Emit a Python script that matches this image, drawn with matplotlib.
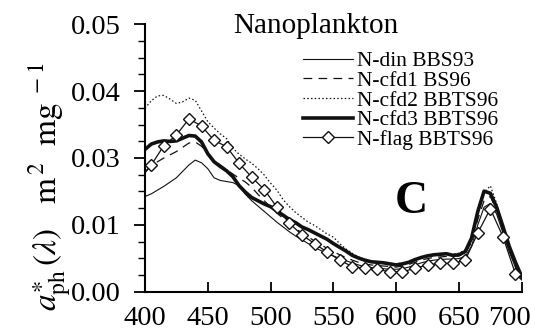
import matplotlib
matplotlib.use("Agg")
import matplotlib.pyplot as plt
import matplotlib.transforms as mtransforms
from matplotlib.ticker import MultipleLocator, FormatStrFormatter
from matplotlib.lines import Line2D

plt.rcParams["font.family"] = ["Liberation Serif", "DejaVu Serif"]
plt.rcParams["mathtext.fontset"] = "stix"

# Wavelength grid (nm) for the continuous spectra
wavelength = list(range(400, 701, 5))

n_din_bbs93 = [
    0.0178, 0.0183, 0.0190, 0.0197, 0.0205, 0.0213, 0.0225, 0.0237, 0.0246, 0.0241,
    0.0230, 0.0213, 0.0208, 0.0206, 0.0204, 0.0198, 0.0182, 0.0170, 0.0160, 0.0150,
    0.0140, 0.0130, 0.0121, 0.0112, 0.0104, 0.0097, 0.0090, 0.0083, 0.0077, 0.0072,
    0.0067, 0.0062, 0.0058, 0.0054, 0.0050, 0.0047, 0.0045, 0.0044, 0.0043, 0.0042,
    0.0042, 0.0043, 0.0046, 0.0050, 0.0054, 0.0057, 0.0059, 0.0060, 0.0061, 0.0061,
    0.0062, 0.0066, 0.0085, 0.0125, 0.0158, 0.0165, 0.0145, 0.0110, 0.0075, 0.0045,
    0.0025,
]

n_cfd1_bs96 = [
    0.0225, 0.0235, 0.0243, 0.0250, 0.0256, 0.0262, 0.0270, 0.0278, 0.0280, 0.0272,
    0.0258, 0.0245, 0.0237, 0.0228, 0.0220, 0.0212, 0.0205, 0.0195, 0.0182, 0.0170,
    0.0158, 0.0147, 0.0137, 0.0127, 0.0118, 0.0110, 0.0102, 0.0095, 0.0088, 0.0081,
    0.0075, 0.0069, 0.0064, 0.0059, 0.0055, 0.0052, 0.0050, 0.0049, 0.0048, 0.0047,
    0.0046, 0.0048, 0.0051, 0.0055, 0.0059, 0.0062, 0.0064, 0.0065, 0.0066, 0.0066,
    0.0067, 0.0072, 0.0092, 0.0135, 0.0170, 0.0178, 0.0152, 0.0115, 0.0078, 0.0047,
    0.0026,
]

n_cfd2_bbts96 = [
    0.0343, 0.0357, 0.0366, 0.0367, 0.0360, 0.0352, 0.0355, 0.0362, 0.0358, 0.0338,
    0.0318, 0.0306, 0.0295, 0.0286, 0.0268, 0.0257, 0.0248, 0.0240, 0.0230, 0.0218,
    0.0203, 0.0190, 0.0172, 0.0159, 0.0148, 0.0139, 0.0130, 0.0124, 0.0116, 0.0108,
    0.0102, 0.0090, 0.0080, 0.0072, 0.0065, 0.0060, 0.0057, 0.0055, 0.0054, 0.0053,
    0.0052, 0.0054, 0.0057, 0.0061, 0.0064, 0.0066, 0.0068, 0.0069, 0.0070, 0.0070,
    0.0072, 0.0078, 0.0100, 0.0145, 0.0185, 0.0198, 0.0165, 0.0125, 0.0085, 0.0052,
    0.0028,
]

n_cfd3_bbts96 = [
    0.0266, 0.0276, 0.0280, 0.0282, 0.0281, 0.0282, 0.0287, 0.0292, 0.0291, 0.0280,
    0.0258, 0.0243, 0.0234, 0.0226, 0.0215, 0.0198, 0.0186, 0.0176, 0.0170, 0.0164,
    0.0159, 0.0151, 0.0143, 0.0135, 0.0129, 0.0121, 0.0116, 0.0110, 0.0104, 0.0098,
    0.0090, 0.0083, 0.0076, 0.0068, 0.0063, 0.0059, 0.0056, 0.0055, 0.0054, 0.0052,
    0.0050, 0.0052, 0.0055, 0.0060, 0.0064, 0.0067, 0.0069, 0.0070, 0.0071, 0.0068,
    0.0069, 0.0075, 0.0100, 0.0150, 0.0188, 0.0184, 0.0158, 0.0122, 0.0085, 0.0055,
    0.0028,
]

# Flagellate spectrum: sampled every 10 nm (markers) plus the two end points
flag_wavelength = [400] + list(range(405, 696, 10)) + [700]
n_flag_bbts96 = [
    0.0222,
    0.0237, 0.0273, 0.0293, 0.0323, 0.0310, 0.0283, 0.0271, 0.0240, 0.0214, 0.0191,
    0.0158, 0.0128, 0.0106, 0.0090, 0.0074, 0.0059, 0.0047, 0.0044, 0.0042, 0.0037,
    0.0037, 0.0044, 0.0050, 0.0053, 0.0053, 0.0059, 0.0110, 0.0155, 0.0103, 0.0033,
    0.0022,
]

labels = ["N-din BBS93", "N-cfd1 BS96", "N-cfd2 BBTS96", "N-cfd3 BBTS96", "N-flag BBTS96"]
x_ticks = [400, 450, 500, 550, 600, 650, 700]

fig = plt.figure(figsize=(5.39, 3.31), dpi=100)
ax = fig.add_axes([0.269, 0.1187, 0.699, 0.808])

ink = "#111111"
styles = [
    dict(color=ink, lw=0.8),
    dict(color=ink, lw=0.9, dashes=(7, 5)),
    dict(color=ink, lw=0.9, dashes=(1.2, 1.8)),
    dict(color=ink, lw=2.6),
    dict(color=ink, lw=0.9, marker="D", ms=6.5, mfc="white", mec=ink, mew=1.0),
]
series = [n_din_bbs93, n_cfd1_bs96, n_cfd2_bbts96, n_cfd3_bbts96]
for ys, st in zip(series, styles[:4]):
    ax.plot(wavelength, ys, **st)
ax.plot(flag_wavelength, n_flag_bbts96,
        markevery=list(range(1, len(flag_wavelength) - 1)), **styles[4])

ax.set_xlim(400, 700)
ax.set_ylim(0, 0.05)
ax.set_xticks(x_ticks)
ax.yaxis.set_major_locator(MultipleLocator(0.0125))
ax.yaxis.set_minor_locator(MultipleLocator(0.003125))
ax.yaxis.set_major_formatter(FormatStrFormatter("%.2f"))

for side in ("top", "right"):
    ax.spines[side].set_visible(False)
for side in ("left", "bottom"):
    ax.spines[side].set_linewidth(1.5)

ax.tick_params(axis="x", which="major", direction="in", length=7, width=1.3,
               labelsize=20.5, pad=10.5)
ax.tick_params(axis="y", which="major", direction="out", length=8, width=1.3,
               labelsize=20.5, pad=9.5)
ax.tick_params(axis="y", which="minor", direction="out", length=5, width=1.0)

# keep the last wavelength label inside the figure
last = ax.get_xticklabels()[-1]
last.set_transform(last.get_transform() +
                   mtransforms.ScaledTranslation(-9 / 72, 0, fig.dpi_scale_trans))

ax.set_ylabel(r"$a^{\ast}_{\rm ph}\,(\lambda)\ \ \ {\rm m}^{\,2}\ \ {\rm mg}^{\ -1}$",
              fontsize=24)
ax.yaxis.set_label_coords(-0.19, 0.394)

ax.text(0.454, 0.9675, "Nanoplankton", transform=ax.transAxes, ha="center",
        va="baseline", fontsize=21)
ax.text(0.706, 0.294, "C", transform=ax.transAxes, ha="center", va="baseline",
        fontsize=33, fontweight="bold")

handles = [Line2D([], [], **st) for st in styles]
ax.legend(handles, labels, loc="upper left", bbox_to_anchor=(0.42, 0.899),
          frameon=False, fontsize=15.5, handlelength=2.3, handletextpad=0.2,
          labelspacing=-0.02, borderpad=0, borderaxespad=0, numpoints=1)

fig.savefig("out.png", dpi=100)
